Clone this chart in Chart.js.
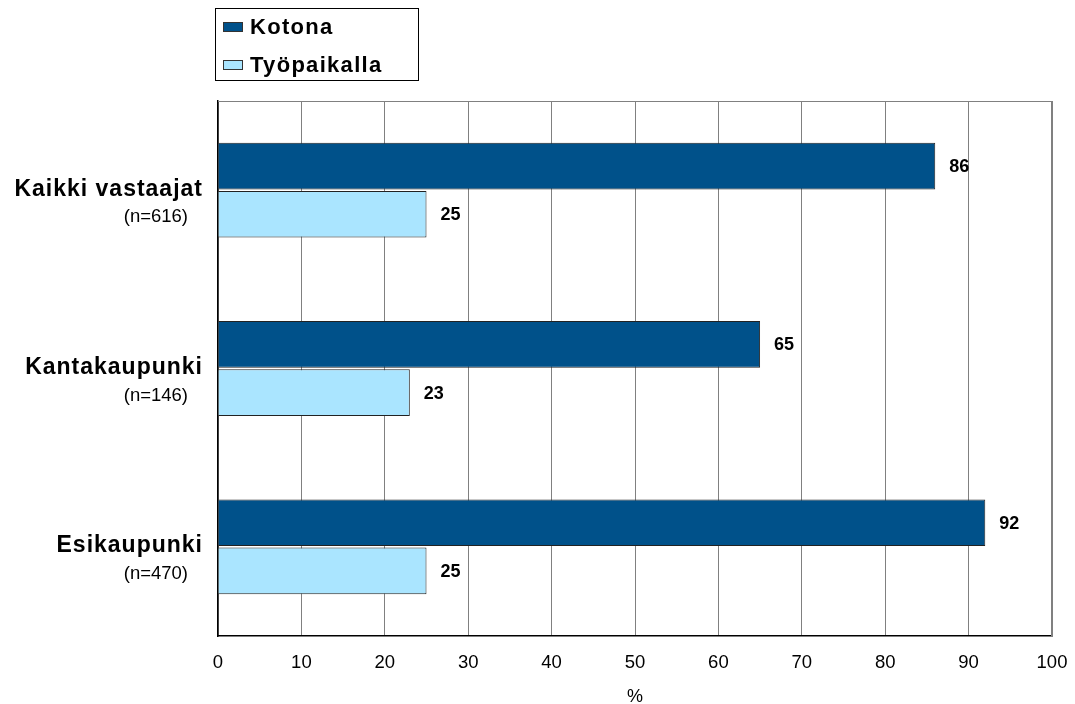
<!DOCTYPE html>
<html>
<head>
<meta charset="utf-8">
<script src="https://cdn.jsdelivr.net/npm/chart.js@4.4.0/dist/chart.umd.min.js"></script>
<style>
  html, body { margin: 0; padding: 0; background: #fff; }
  #wrap { width: 1075px; height: 704px; position: relative; }
</style>
</head>
<body>
<div id="wrap"><canvas id="chart"></canvas></div>
<script>
// Data
const categories = ['Kaikki vastaajat', 'Kantakaupunki', 'Esikaupunki'];
const sampleSizes = ['(n=616)', '(n=146)', '(n=470)'];
const kotona = [86, 65, 92];
const tyopaikalla = [25, 23, 25];
const seriesNames = ['Kotona', 'Työpaikalla'];
const xTicks = [0, 10, 20, 30, 40, 50, 60, 70, 80, 90, 100];

const FONT = '"Liberation Sans", Arial, sans-serif';
const DARK = '#00518A';
const LIGHT = '#AAE5FF';

// Two-line category labels drawn left of the plot
const categoryLabels = {
    id: 'categoryLabels',
    afterDraw(chart) {
        const ctx = chart.ctx;
        const y = chart.scales.y;
        ctx.save();
        ctx.textAlign = 'right';
        ctx.textBaseline = 'middle';
        ctx.fillStyle = '#000';
        categories.forEach((c, i) => {
            const cy = y.getPixelForValue(i);
            ctx.font = 'bold 23px ' + FONT;
            ctx.letterSpacing = '1px';
            ctx.fillText(c, 203, cy - 1);
            ctx.font = '18.5px ' + FONT;
            ctx.letterSpacing = '0px';
            ctx.fillText(sampleSizes[i], 188, cy + 27);
        });
        ctx.restore();
    }
};

// Value labels at bar ends
const valueLabels = {
    id: 'valueLabels',
    afterDatasetsDraw(chart) {
        const ctx = chart.ctx;
        ctx.save();
        ctx.font = 'bold 18px ' + FONT;
        ctx.fillStyle = '#000';
        ctx.textAlign = 'left';
        ctx.textBaseline = 'middle';
        chart.data.datasets.forEach((ds, di) => {
            chart.getDatasetMeta(di).data.forEach((bar, i) => {
                ctx.fillText(ds.data[i], bar.x + 14, bar.y + 1);
            });
        });
        ctx.restore();
    }
};

// Frame around plot: top and right grey
const frame = {
    id: 'frame',
    beforeDatasetsDraw(chart) {
        const a = chart.chartArea;
        const ctx = chart.ctx;
        ctx.save();
        ctx.strokeStyle = '#808080';
        ctx.lineWidth = 1;
        ctx.beginPath();
        ctx.moveTo(a.left, a.top + 0.5);
        ctx.lineTo(a.right, a.top + 0.5);
        ctx.stroke();
        ctx.lineWidth = 2;
        ctx.beginPath();
        ctx.moveTo(a.right, a.top);
        ctx.lineTo(a.right, a.bottom);
        ctx.stroke();
        ctx.restore();
    }
};

// Boxed legend top-left
const boxLegend = {
    id: 'boxLegend',
    afterDraw(chart) {
        const ctx = chart.ctx;
        ctx.save();
        ctx.strokeStyle = '#000';
        ctx.lineWidth = 1;
        ctx.strokeRect(215.5, 8.5, 203, 72);
        const colors = [DARK, LIGHT];
        seriesNames.forEach((name, i) => {
            const cy = 27 + i * 38;
            ctx.fillStyle = colors[i];
            ctx.fillRect(223, cy - 5, 20, 10);
            ctx.strokeStyle = '#333';
            ctx.strokeRect(223.5, cy - 4.5, 19, 9);
            ctx.fillStyle = '#000';
            ctx.font = 'bold 22px ' + FONT;
            ctx.letterSpacing = '1.3px';
            ctx.textAlign = 'left';
            ctx.textBaseline = 'middle';
            ctx.fillText(name, 250, cy + 1);
        });
        ctx.restore();
    }
};

new Chart(document.getElementById('chart'), {
    type: 'bar',
    data: {
        labels: categories,
        datasets: [{
            label: seriesNames[0],
            data: kotona,
            backgroundColor: DARK,
            borderColor: '#222',
            borderWidth: 1,
            categoryPercentage: 0.54,
            barPercentage: 0.97
        }, {
            label: seriesNames[1],
            data: tyopaikalla,
            backgroundColor: LIGHT,
            borderColor: '#222',
            borderWidth: 1,
            categoryPercentage: 0.54,
            barPercentage: 0.97
        }]
    },
    options: {
        indexAxis: 'y',
        responsive: true,
        maintainAspectRatio: false,
        animation: false,
        layout: {
            padding: { left: 218, right: 23, top: 101, bottom: 0 }
        },
        plugins: {
            legend: { display: false },
            tooltip: { enabled: false }
        },
        scales: {
            x: {
                min: 0,
                max: 100,
                afterFit: (s) => {
                    s.height = 68;
                    s.paddingLeft = 0;
                    s.paddingRight = 0;
                },
                ticks: {
                    stepSize: 10,
                    color: '#000',
                    font: { family: FONT, size: 18.5 },
                    padding: 16,
                    callback: (v) => xTicks.includes(v) ? v : ''
                },
                grid: { color: '#808080', drawTicks: false },
                border: { color: '#000', width: 1.5 },
                title: {
                    display: true,
                    text: '%',
                    color: '#000',
                    font: { family: FONT, size: 18 },
                    padding: { top: 10, bottom: -4 }
                }
            },
            y: {
                ticks: { display: false },
                grid: { display: false, drawTicks: false },
                border: { color: '#000', width: 1.5 }
            }
        }
    },
    plugins: [frame, valueLabels, categoryLabels, boxLegend]
});
</script>
</body>
</html>
